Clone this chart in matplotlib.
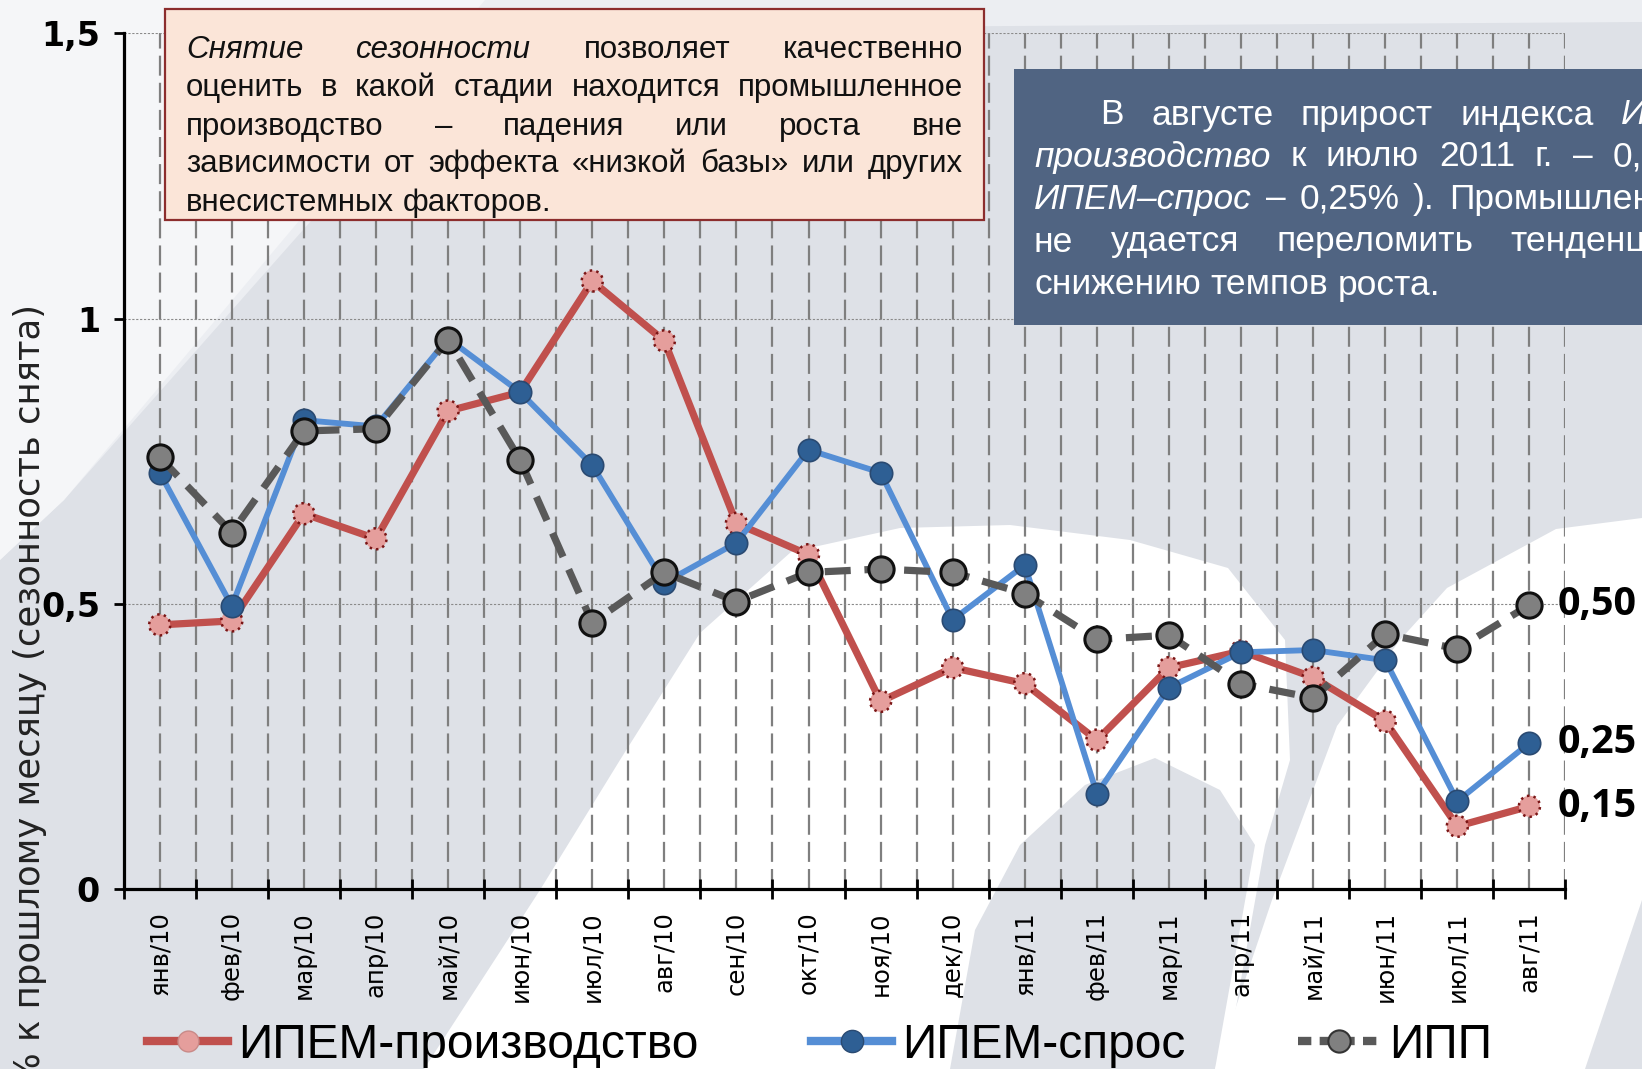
import matplotlib
matplotlib.use('Agg')
import matplotlib.pyplot as plt
import numpy as np
from matplotlib.patches import Polygon, Rectangle
from matplotlib.lines import Line2D

# данные
months = ['янв/10', 'фев/10', 'мар/10', 'апр/10', 'май/10', 'июн/10', 'июл/10',
          'авг/10', 'сен/10', 'окт/10', 'ноя/10', 'дек/10', 'янв/11', 'фев/11',
          'мар/11', 'апр/11', 'май/11', 'июн/11', 'июл/11', 'авг/11']
ipem_prod = [0.463, 0.47, 0.658, 0.614, 0.838, 0.871, 1.066, 0.961, 0.641, 0.586,
             0.329, 0.388, 0.36, 0.261, 0.388, 0.417, 0.371, 0.294, 0.11, 0.145]
ipem_spros = [0.73, 0.496, 0.822, 0.811, 0.965, 0.871, 0.743, 0.537, 0.607, 0.77,
              0.73, 0.472, 0.568, 0.167, 0.353, 0.415, 0.419, 0.401, 0.154, 0.256]
ipp = [0.757, 0.625, 0.803, 0.807, 0.963, 0.752, 0.467, 0.555, 0.504, 0.555,
       0.561, 0.555, 0.518, 0.4375, 0.445, 0.36, 0.335, 0.447, 0.421, 0.498]
end_labels = ['0,15', '0,25', '0,50']
series_names = ['ИПЕМ-производство', 'ИПЕМ-спрос', 'ИПП']
yticks = [0, 0.5, 1, 1.5]
ytick_labels = ['0', '0,5', '1', '1,5']
ylabel = '% к прошлому месяцу (сезонность снята)'

pink_lines = ['Снятие сезонности позволяет качественно',
              'оценить в какой стадии находится промышленное',
              'производство – падения или роста вне',
              'зависимости от эффекта «низкой базы» или других',
              'внесистемных факторов.']
pink_italic = {'Снятие', 'сезонности'}
blue_lines = ['В августе прирост индекса ИПЕМ–',
              'производство к июлю 2011 г. – 0,15% (',
              'ИПЕМ–спрос – 0,25% ). Промышленности',
              'не удается переломить тенденцию к',
              'снижению темпов роста.']
blue_italic = {'ИПЕМ–', 'производство', 'ИПЕМ–спрос'}

W, H = 1642, 1069
fig = plt.figure(figsize=(W / 100, H / 100), dpi=100)
fig.patch.set_facecolor('#dee1e7')

# фон (водяной знак)
bg = fig.add_axes([0, 0, 1, 1], zorder=-10)
bg.set_xlim(0, W)
bg.set_ylim(H, 0)
bg.axis('off')
bg.add_patch(Polygon([(0, 0), (1642, 0), (1642, 22), (700, 28), (480, 30), (64, 500), (0, 560)],
                     closed=True, color='#eceef2', lw=0))
bg.add_patch(Polygon([(0, 0), (485, 0), (64, 500), (0, 560)],
                     closed=True, color='#f5f6f8', lw=0))
bg.add_patch(Polygon([(424, 1069), (540, 890), (620, 760), (700, 633), (791, 552),
                      (900, 528), (1010, 525), (1130, 540), (1228, 568),
                      (1285, 640), (1290, 760), (1265, 845), (1225, 1069)],
                     closed=True, color='white', lw=0))
bg.add_patch(Polygon([(950, 1069), (975, 930), (1020, 845), (1085, 785), (1155, 758),
                      (1220, 790), (1255, 845), (1215, 1069)],
                     closed=True, color='#dee1e7', lw=0))
bg.add_patch(Polygon([(1215, 1069), (1272, 900), (1337, 726), (1400, 640), (1447, 588),
                      (1556, 529), (1642, 518), (1642, 900), (1585, 1069)],
                     closed=True, color='white', lw=0))

ax = fig.add_axes([0.0753, 0.1684, 0.8781, 0.8003])
ax.patch.set_alpha(0)
x = np.arange(len(months))

ax.plot(x, ipem_prod, color='#c0504d', lw=5.2, zorder=3)
ax.scatter(x, ipem_prod, s=230, c='#e59e9c', edgecolors='#7a1515', linewidths=1.8,
           linestyle=':', zorder=3.1)
ax.plot(x, ipem_spros, color='#558ed5', lw=4.2, zorder=4)
ax.scatter(x, ipem_spros, s=260, c='#2e5f94', edgecolors='#2a4a72', linewidths=1.2,
           zorder=4.1)
ax.plot(x, ipp, color='#595959', lw=5.2, dashes=(3.6, 1.9), zorder=5)
ax.scatter(x, ipp, s=330, c='#808080', edgecolors='#111111', linewidths=2.2, zorder=5.1)

for val, lab in zip([ipem_prod[-1], ipem_spros[-1], ipp[-1]], end_labels):
    ax.annotate(lab, xy=(x[-1], val), xytext=(20, 0), textcoords='offset points',
                va='center', ha='left', fontsize=28.5, fontweight='bold',
                family=['Open Sans', 'DejaVu Sans'], color='black')

ax.set_xlim(-0.5, len(months) - 0.5)
ax.set_ylim(0, 1.5)
ax.set_xticks(x)
ax.set_xticklabels(months, rotation=90, fontsize=17.5, family='DejaVu Sans')
ax.set_xticks(np.arange(-0.5, len(months), 1.0), minor=True)
ax.tick_params(axis='x', which='major', length=0, pad=16)
ax.tick_params(axis='x', which='minor', direction='inout', length=14, width=2)
ax.set_yticks(yticks)
ax.set_yticklabels(ytick_labels, fontsize=24, fontweight='bold',
                   family=['Liberation Sans Narrow', 'DejaVu Sans'])
ax.tick_params(axis='y', direction='out', length=7, width=2, pad=10)

for s in ['top', 'right']:
    ax.spines[s].set_visible(False)
for s in ['left', 'bottom']:
    ax.spines[s].set_linewidth(2.3)

ax.set_axisbelow(True)
ax.grid(axis='x', which='both', color='#7f7f7f', lw=1.6, dashes=(9, 3.2))
ax.grid(axis='y', which='major', color='#8a8a8a', lw=0.8, linestyle=(0, (2, 1.5)))

fig.text(30 / W, 1 - 304 / H, ylabel, rotation=90, rotation_mode='anchor',
         ha='right', va='center', fontsize=25.5, family='DejaVu Sans', color='#222222')

# легенда
handles = [
    Line2D([], [], color='#c0504d', lw=6, marker='o', ms=15, mfc='#e59e9c', mec='#c98a88'),
    Line2D([], [], color='#558ed5', lw=6, marker='o', ms=16, mfc='#2e5f94', mec='#2a4a72'),
    Line2D([], [], color='#595959', lw=6, dashes=(1.6, 1.0), marker='o', ms=16,
           mfc='#808080', mec='#333333', mew=1.5),
]
fig.legend(handles, series_names, loc='center left', bbox_to_anchor=(147 / W, 1 - 1045 / H),
           ncol=3, frameon=False, prop={'family': 'Liberation Sans', 'size': 34.5},
           handlelength=1.7, handletextpad=0.2, columnspacing=2.35, borderpad=0,
           borderaxespad=0)

# текстовые блоки
ov = fig.add_axes([0, 0, 1, 1], zorder=5)
ov.set_xlim(0, W)
ov.set_ylim(H, 0)
ov.axis('off')
ov.patch.set_alpha(0)
ov.add_patch(Rectangle((165, 9), 819, 211, facecolor='#fbe5d8', edgecolor='#8c2d2d', lw=1.6))
ov.add_patch(Rectangle((1014, 69), 700, 256, facecolor='#506482', edgecolor='none'))

renderer = fig.canvas.get_renderer()


def put_line(text, italic, x0, x1, y, size, color, justify):
    words = text.split(' ')
    arts = []
    for w in words:
        t = ov.text(x0, y, w, fontsize=size, color=color, family='Liberation Sans',
                    style='italic' if w in italic else 'normal', va='center', ha='left')
        arts.append(t)
    widths = [t.get_window_extent(renderer).width for t in arts]
    if justify and len(arts) > 1:
        gap = (x1 - x0 - sum(widths)) / (len(arts) - 1)
    else:
        gap = size * 0.28 * 100 / 72
    cx = x0
    for t, w in zip(arts, widths):
        t.set_x(cx)
        cx += w + gap


pink_y = [50, 88, 127, 164, 203]
for i, (line, y) in enumerate(zip(pink_lines, pink_y)):
    put_line(line, pink_italic, 186, 963, y, 22.5, '#111111', i < len(pink_lines) - 1)

blue_y = [115, 157, 199, 242, 285]
for i, (line, y) in enumerate(zip(blue_lines, blue_y)):
    x0 = 1100 if i == 0 else 1034
    put_line(line, blue_italic, x0, 1745, y, 25.5, 'white', i < len(blue_lines) - 1)

fig.savefig('out.png', dpi=100, facecolor=fig.get_facecolor())
